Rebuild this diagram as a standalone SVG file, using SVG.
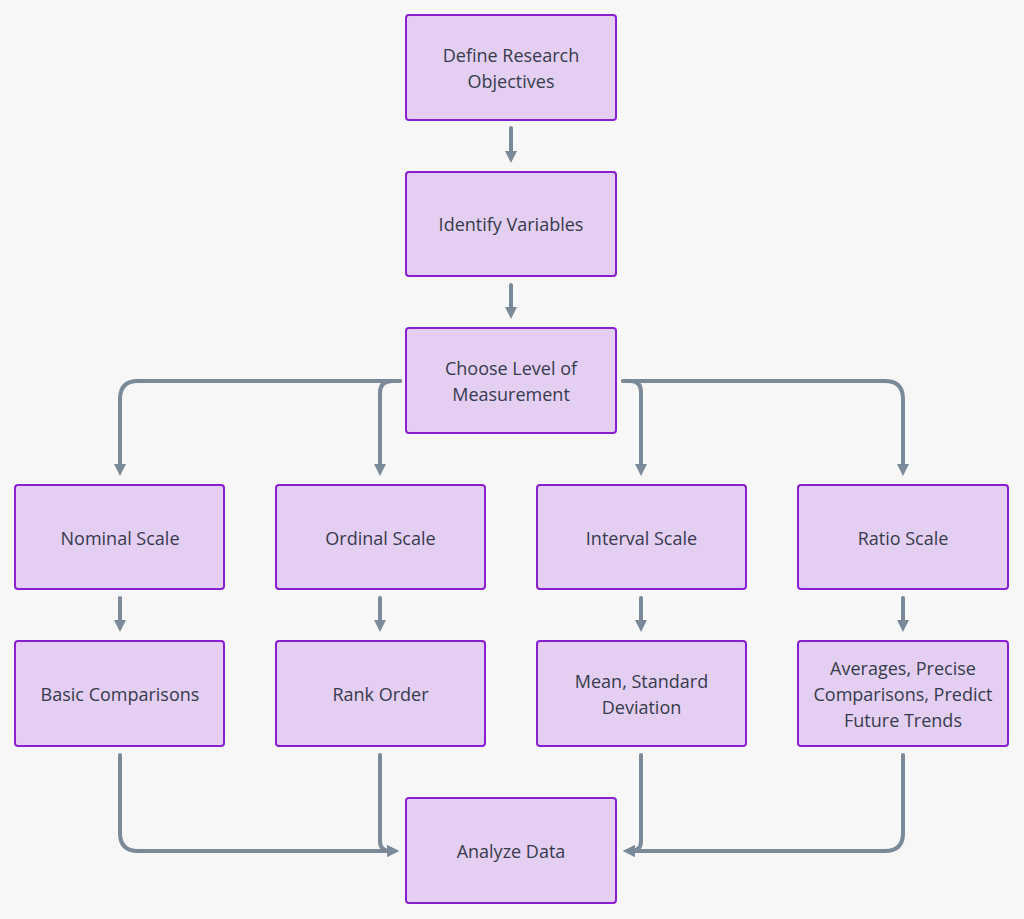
<svg xmlns="http://www.w3.org/2000/svg" width="1024" height="919" viewBox="0 0 1024 919">
<style>
.n rect{fill:#e4cff3;stroke:#8a1fd1;stroke-width:2}
.n text{font-family:"Open Sans","Liberation Sans",sans-serif;font-size:18px;fill:#363b4c;text-anchor:middle;dominant-baseline:central}
.c path{fill:none;stroke:#7b8a98;stroke-width:4;stroke-linecap:round;stroke-linejoin:round}
</style>
<defs>
<marker id="ah" viewBox="0 0 12 12" refX="6" refY="6" markerWidth="12" markerHeight="12" markerUnits="userSpaceOnUse" orient="auto">
<path d="M0,0 L12,6 L0,12 Z" fill="#7b8a98"/>
</marker>
</defs>
<rect width="1024" height="919" fill="#f7f7f7"/>
<g class="c">
<path d="M511,128 V157" marker-end="url(#ah)"/>
<path d="M511,285 V313" marker-end="url(#ah)"/>
<path d="M400,381 H138 Q120,381 120,399 V470" marker-end="url(#ah)"/>
<path d="M400,381 H392 Q380,381 380,393 V470" marker-end="url(#ah)"/>
<path d="M623,381 H630 Q641,381 641,392 V470" marker-end="url(#ah)"/>
<path d="M623,381 H885 Q903,381 903,399 V470" marker-end="url(#ah)"/>
<path d="M120,598 V626" marker-end="url(#ah)"/>
<path d="M380,598 V626" marker-end="url(#ah)"/>
<path d="M641,598 V626" marker-end="url(#ah)"/>
<path d="M903,598 V626" marker-end="url(#ah)"/>
<path d="M120,755 V833 Q120,851 138,851 H393" marker-end="url(#ah)"/>
<path d="M380,755 V841 Q380,851 390,851 H393" marker-end="url(#ah)"/>
<path d="M641,755 V841 Q641,851 631,851 H629" marker-end="url(#ah)"/>
<path d="M903,755 V833 Q903,851 885,851 H629" marker-end="url(#ah)"/>
</g>
<g id="n1" class="n"><rect x="406" y="15" width="210" height="105" rx="3"/><text x="511" y="55">Define Research</text><text x="511" y="81">Objectives</text></g>
<g id="n2" class="n"><rect x="406" y="172" width="210" height="104" rx="3"/><text x="511" y="224">Identify Variables</text></g>
<g id="n3" class="n"><rect x="406" y="328" width="210" height="105" rx="3"/><text x="511" y="368">Choose Level of</text><text x="511" y="394">Measurement</text></g>
<g id="n4" class="n"><rect x="15" y="485" width="209" height="104" rx="3"/><text x="120" y="538">Nominal Scale</text></g>
<g id="n5" class="n"><rect x="276" y="485" width="209" height="104" rx="3"/><text x="380.5" y="538">Ordinal Scale</text></g>
<g id="n6" class="n"><rect x="537" y="485" width="209" height="104" rx="3"/><text x="641.5" y="538">Interval Scale</text></g>
<g id="n7" class="n"><rect x="798" y="485" width="210" height="104" rx="3"/><text x="903" y="538">Ratio Scale</text></g>
<g id="n8" class="n"><rect x="15" y="641" width="209" height="105" rx="3"/><text x="120" y="694">Basic Comparisons</text></g>
<g id="n9" class="n"><rect x="276" y="641" width="209" height="105" rx="3"/><text x="380.5" y="694">Rank Order</text></g>
<g id="n10" class="n"><rect x="537" y="641" width="209" height="105" rx="3"/><text x="641.5" y="681">Mean, Standard</text><text x="641.5" y="707">Deviation</text></g>
<g id="n11" class="n"><rect x="798" y="641" width="210" height="105" rx="3"/><text x="903" y="668">Averages, Precise</text><text x="903" y="694">Comparisons, Predict</text><text x="903" y="720">Future Trends</text></g>
<g id="n12" class="n"><rect x="406" y="798" width="210" height="105" rx="3"/><text x="511" y="851">Analyze Data</text></g>
</svg>
